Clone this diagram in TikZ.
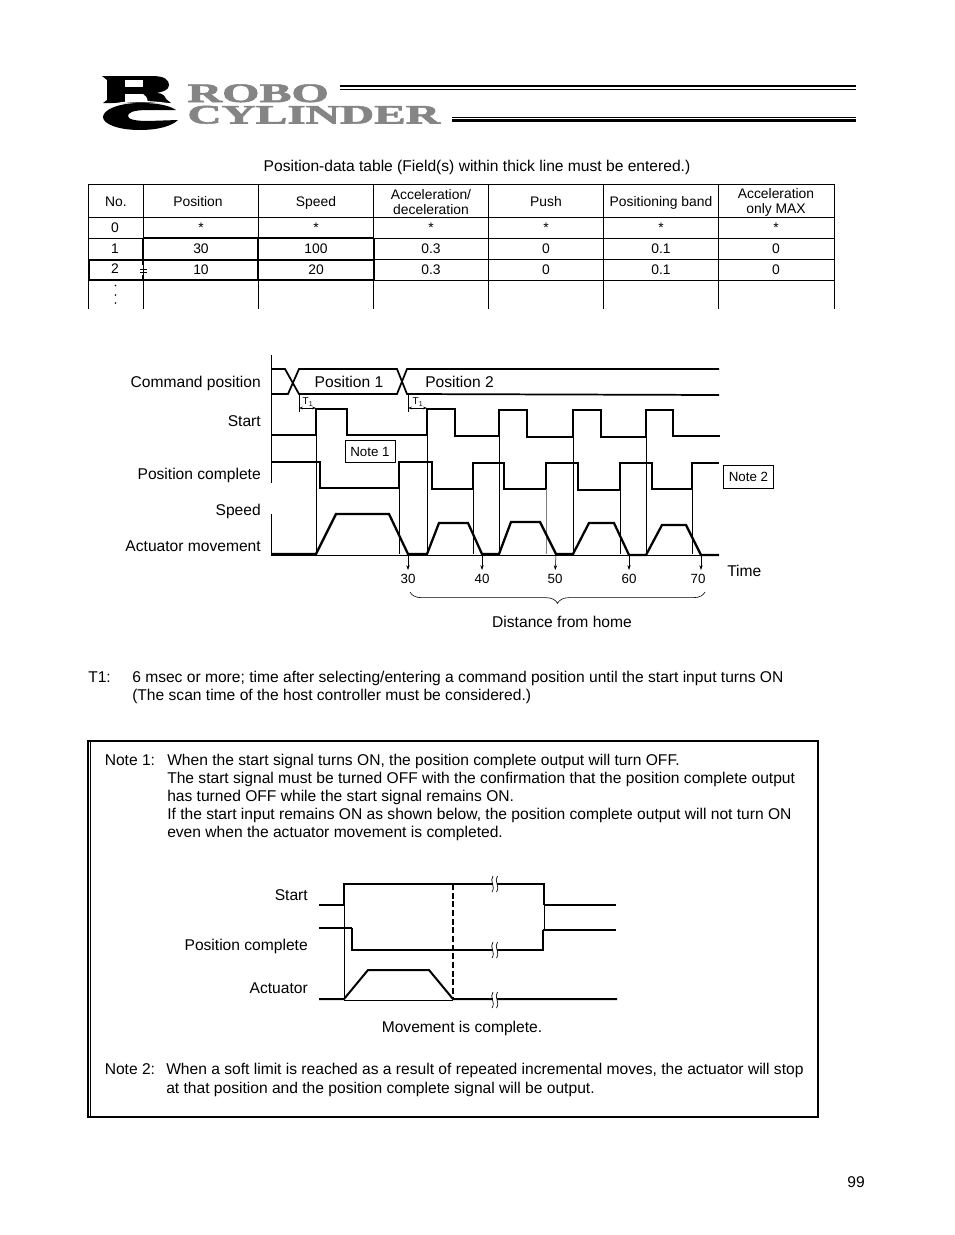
\documentclass[tikz,border=0pt]{standalone}
\usepackage{fontspec}
\setmainfont{Liberation Sans}
\newfontfamily\logofont[BoldFeatures={FakeBold=2}]{Liberation Serif}
\usepackage{xcolor}
\usetikzlibrary{arrows.meta,decorations.pathreplacing}
\definecolor{rcgray}{gray}{0.52}
\tikzset{
    txt/.style={inner sep=0pt, text height=8.4pt, text depth=0pt, font=\fontsize{11.7}{13}\selectfont},
    cell/.style={inner sep=0pt, text height=7.5pt, text depth=0pt, font=\fontsize{10.4}{12}\selectfont},
    hdr/.style={inner sep=0pt, align=center, font=\fontsize{10.4}{11.3}\selectfont},
    tiny/.style={inner sep=0pt, text height=7.2pt, text depth=0pt, font=\fontsize{10}{12}\selectfont},
    notebox/.style={draw, line width=0.75pt, inner sep=0pt, minimum width=37.5pt, minimum height=17pt, font=\fontsize{10}{12}\selectfont},
    logotxt/.style={inner sep=0pt, anchor=base west, text=rcgray, font=\logofont\bfseries\fontsize{20}{22}\selectfont},
    sig/.style={line width=1.7pt, line join=miter},
    wire/.style={line width=1.3pt},
    thinl/.style={line width=0.6pt},
    grid/.style={line width=0.6pt},
    gridb/.style={line width=1.5pt},
    brkmark/.pic={
        \fill[white] (-1.5,-6) rectangle (2.5,6);
        \draw[line width=0.5pt] (-1,-8) .. controls (-5,-3) and (2,2) .. (-2,8);
        \draw[line width=0.5pt] (3.5,-8) .. controls (-0.5,-3) and (6.5,2) .. (2.5,8);
    }
}
\begin{document}
\begin{tikzpicture}[x=0.75pt, y=-0.75pt]
    \useasboundingbox[fill=white] (0,0) rectangle (954,1235);

    % Logo
    \fill (102,76) -- (152,76) .. controls (165,76) and (169,80) .. (169,85) .. controls (169,90) and (163,92) .. (156,93) .. controls (163,93) and (165,96) .. (166,99) -- (171,103) -- (103,103) -- (107,100) -- (107,80) -- cycle;
    \fill[white] (125,80) rectangle (143,87);
    \fill[white] (125,94) -- (143,94) .. controls (146,95) and (147,98) .. (148,102) -- (125,102) -- cycle;
    \fill (140,103) .. controls (160,103) and (170,106) .. (176,110) -- (148,110) .. controls (132,110) and (128,113) .. (128,116) .. controls (128,119) and (134,121) .. (148,121) -- (178,120) .. controls (172,126) and (158,130) .. (140,130) .. controls (118,130) and (103,124) .. (103,117) .. controls (103,110) and (118,103) .. (140,103) -- cycle;
    \draw[white, line width=0.9pt] (101,108) .. controls (120,100) and (150,100) .. (176,105);
    \node[logotxt, xscale=1.8] (robo) at (187,102) {ROBO};
    \node[logotxt, xscale=1.775] (cyl) at (187,123.5) {CYLINDER};
    \draw[line width=1.7pt] (340,86) -- (856,86);
    \draw[line width=0.7pt] (340,89.5) -- (856,89.5);
    \draw[line width=0.7pt] (452,117) -- (856,117);
    \draw[line width=1.7pt] (452,120.5) -- (856,120.5);

    % Tabella
    \node[txt] (title) at (477,166) {Position-data table (Field(s) within thick line must be entered.)};
    \draw[grid] (88,184) -- (834,184);
    \draw[grid] (88,217) -- (834,217);
    \draw[grid] (88,238) -- (834,238);
    \draw[grid] (88,259) -- (834,259);
    \draw[grid] (88,280) -- (834,280);
    \draw[grid] (88,184) -- (88,309);
    \draw[grid] (143,184) -- (143,309);
    \draw[grid] (258,184) -- (258,309);
    \draw[grid] (373,184) -- (373,309);
    \draw[grid] (488,184) -- (488,309);
    \draw[grid] (603,184) -- (603,309);
    \draw[grid] (718,184) -- (718,309);
    \draw[grid] (834,184) -- (834,309);
    \draw[gridb] (143,238) -- (374,238);
    \draw[gridb] (88,259.5) -- (374,259.5);
    \draw[gridb] (88,280) -- (374,280);
    \draw[gridb] (143,238) -- (143,265);
    \draw[gridb] (258,238) -- (258,280);
    \draw[gridb] (373.5,238) -- (373.5,280);
    \draw[gridb] (88.5,259) -- (88.5,280);
    \draw[line width=0.6pt] (140,269.5) -- (147,269.5);
    \draw[line width=0.6pt] (140,272.5) -- (147,272.5);
    \draw[gridb] (143,275) -- (143,280);

    % Intestazione
    \node[cell] (hno) at (116,201) {No.};
    \node[cell] (hpos) at (198,201) {Position};
    \node[cell] (hspd) at (316,201) {Speed};
    \node[hdr] (hacc) at (431,202.5) {Acceleration/\\deceleration};
    \node[cell] (hpush) at (546,201) {Push};
    \node[cell] (hband) at (661,201) {Positioning band};
    \node[hdr] (hmax) at (776,202.5) {Acceleration\\only MAX};

    % Righe
    \node[cell] (no0) at (115,227) {0};
    \node[cell] (pos0) at (201,227) {*};
    \node[cell] (spd0) at (316,227) {*};
    \node[cell] (acc0) at (431,227) {*};
    \node[cell] (push0) at (546,227) {*};
    \node[cell] (band0) at (661,227) {*};
    \node[cell] (max0) at (776,227) {*};
    \node[cell] (no1) at (115,248) {1};
    \node[cell] (pos1) at (201,248) {30};
    \node[cell] (spd1) at (316,248) {100};
    \node[cell] (acc1) at (431,248) {0.3};
    \node[cell] (push1) at (546,248) {0};
    \node[cell] (band1) at (661,248) {0.1};
    \node[cell] (max1) at (776,248) {0};
    \node[cell] (no2) at (115,268) {2};
    \node[cell] (pos2) at (201,269) {10};
    \node[cell] (spd2) at (316,269) {20};
    \node[cell] (acc2) at (431,269) {0.3};
    \node[cell] (push2) at (546,269) {0};
    \node[cell] (band2) at (661,269) {0.1};
    \node[cell] (max2) at (776,269) {0};
    \fill (115.5,285.5) circle (0.7pt);
    \fill (115.5,295) circle (0.7pt);
    \fill (115.5,303) circle (0.7pt);

    % Etichette segnali
    \node[txt, anchor=east] (lcmd) at (261,382) {Command position};
    \node[txt, anchor=east] (lstart) at (261,421) {Start};
    \node[txt, anchor=east] (lpc) at (261,474) {Position complete};
    \node[txt, anchor=east] (lspd) at (261,510) {Speed};
    \node[txt, anchor=east] (lact) at (261,546) {Actuator movement};

    % Asse
    \draw[thinl] (271,355) -- (271,483);
    \draw[thinl] (271,514) -- (271,554);
    \draw[thinl] (271,555) -- (719,555);

    % Command position
    \draw[wire] (271,369) -- (285,369) -- (299,394) -- (397,394) -- (407,369) -- (719,369);
    \draw[wire] (271,394) -- (288,394) -- (299,369) -- (397,369) -- (407,394) -- (719,395);
    \node[txt] (p1) at (349,382) {Position 1};
    \node[txt] (p2) at (459.5,382) {Position 2};

    % T1
    \draw[thinl] (299,394) -- (299,412);
    \draw[thinl] (408,394) -- (408,412);
    \draw[{Stealth[length=3pt,width=2pt]}-{Stealth[length=3pt,width=2pt]}, line width=0.4pt] (299,408) -- (316,408);
    \draw[{Stealth[length=3pt,width=2pt]}-{Stealth[length=3pt,width=2pt]}, line width=0.4pt] (408,408) -- (427,408);
    \node[inner sep=0pt, font=\fontsize{7.5}{8}\selectfont] (t1a) at (308,402) {T\textsubscript{1}};
    \node[inner sep=0pt, font=\fontsize{7.5}{8}\selectfont] (t1b) at (418,402) {T\textsubscript{1}};

    % Start
    \draw[sig] (271,435) -- (316,435) -- (316,409) -- (347,409) -- (347,435) -- (427,435) -- (427,409) -- (455,409) -- (455,436) -- (499,436) -- (499,410) -- (527,410) -- (527,437) -- (573,437) -- (573,410) -- (601,410) -- (601,437) -- (646,437) -- (646,410) -- (673,410) -- (673,436) -- (720,436);

    % Position complete
    \draw[sig] (271,462) -- (320,462) -- (320,488) -- (399,488) -- (399,462) -- (432,462) -- (432,489) -- (473,489) -- (473,463) -- (504,463) -- (504,489) -- (546,489) -- (546,463) -- (578,463) -- (578,490) -- (620,490) -- (620,463) -- (652,463) -- (652,489) -- (692,489) -- (692,463) -- (719,463);

    % Linee verticali
    \draw[thinl] (316,435) -- (316,554);
    \draw[thinl] (399,488) -- (399,554);
    \draw[thinl] (427,435) -- (427,554);
    \draw[thinl] (473,489) -- (473,554);
    \draw[thinl] (499,436) -- (499,554);
    \draw[thinl, gray] (546,489) -- (546,554);
    \draw[thinl] (573,437) -- (573,554);
    \draw[thinl] (620,490) -- (620,554);
    \draw[thinl] (646,437) -- (646,554);
    \draw[thinl] (692,489) -- (692,554);

    % Speed
    \draw[sig] (271,554) -- (316,554) -- (336,514) -- (389,514) -- (408,554) -- (427,554) -- (439,523) -- (468,523) -- (482,554) -- (499,554) -- (511,522) -- (540,522) -- (556,554) -- (573,554) -- (589,523) -- (614,523) -- (629,555) -- (646,555) -- (662,525) -- (686,525) -- (701,555) -- (719,555);

    % Note
    \node[notebox] (note1) at (370,451.5) {Note 1};
    \node[notebox] (note2) at (748.5,477) {Note 2};

    % Distanze
    \node[tiny] (d30) at (408,579) {30};
    \node[tiny] (d40) at (482,579) {40};
    \node[tiny] (d50) at (555,579) {50};
    \node[tiny] (d60) at (629,579) {60};
    \node[tiny] (d70) at (698,579) {70};
    \draw[-{Stealth[length=3.5pt,width=2.5pt]}, line width=0.4pt, shorten >=3pt] (408,555) -- (d30.north);
    \draw[-{Stealth[length=3.5pt,width=2.5pt]}, line width=0.4pt, shorten >=3pt] (482,555) -- (d40.north);
    \draw[-{Stealth[length=3.5pt,width=2.5pt]}, line width=0.4pt, shorten >=3pt] (556,555) -- (d50.north);
    \draw[-{Stealth[length=3.5pt,width=2.5pt]}, line width=0.4pt, shorten >=3pt] (629,555) -- (d60.north);
    \draw[-{Stealth[length=3.5pt,width=2.5pt]}, line width=0.4pt] (701,555) -- (701,570);
    \draw[line width=0.45pt, decorate, decoration={brace, mirror, amplitude=8.5pt}] (410,592) -- (705,592);
    \node[txt, anchor=west] (ltime) at (727,571) {Time};
    \node[txt] (ldist) at (562,622) {Distance from home};

    % Definizione T1
    \node[txt, anchor=west] (t1def) at (88,677) {T1:};
    \node[txt, anchor=west] (t1a1) at (132,677) {6 msec or more; time after selecting/entering a command position until the start input turns ON};
    \node[txt, anchor=west] (t1a2) at (132,695) {(The scan time of the host controller must be considered.)};

    % Riquadro note
    \draw[line width=1.3pt] (88,741) rectangle (818,1117);
    \draw[line width=0.6pt] (90.5,741) -- (90.5,1117);
    \node[txt, anchor=west] (n1lab) at (104.5,760) {Note 1:};
    \node[txt, anchor=west] (n1a) at (167,760) {When the start signal turns ON, the position complete output will turn OFF.};
    \node[txt, anchor=west] (n1b) at (167,778) {The start signal must be turned OFF with the confirmation that the position complete output};
    \node[txt, anchor=west] (n1c) at (167,796) {has turned OFF while the start signal remains ON.};
    \node[txt, anchor=west] (n1d) at (167,814) {If the start input remains ON as shown below, the position complete output will not turn ON};
    \node[txt, anchor=west] (n1e) at (167,832) {even when the actuator movement is completed.};

    % Diagramma interno
    \node[txt, anchor=east] (kstart) at (308,895) {Start};
    \node[txt, anchor=east] (kpc) at (308,945) {Position complete};
    \node[txt, anchor=east] (kact) at (308,988) {Actuator};
    \draw[thinl] (344,905) -- (344,999);
    \draw[thinl] (544,905) -- (544,930);
    \draw[thinl] (344,1000) -- (453,1000);
    \draw[wire] (319,905) -- (344,905);
    \draw[sig, line width=2.1pt] (344,905) -- (344,884) -- (544,884) -- (544,905);
    \draw[wire] (544,905) -- (616,905);
    \draw[wire] (319,928) -- (352,928);
    \draw[sig] (352,928) -- (352,950) -- (543,950) -- (543,930);
    \draw[wire] (543,930) -- (616,930);
    \draw[sig, line width=1.5pt] (319,999) -- (344,999) -- (368,970) -- (429,970) -- (453,999) -- (617,999);
    \draw[line width=1.1pt, dash pattern=on 4.5pt off 2pt] (453,884) -- (453,999);
    \pic at (494,884) {brkmark};
    \pic at (494,950) {brkmark};
    \pic at (494,1000) {brkmark};
    \node[txt] (kdone) at (462,1027) {Movement is complete.};

    % Nota 2
    \node[txt, anchor=west] (n2lab) at (104.5,1069) {Note 2:};
    \node[txt, anchor=west] (n2a) at (166,1069) {When a soft limit is reached as a result of repeated incremental moves, the actuator will stop};
    \node[txt, anchor=west] (n2b) at (166,1088) {at that position and the position complete signal will be output.};

    % Numero di pagina
    \node[txt] (pageno) at (856,1182) {99};
\end{tikzpicture}
\end{document}
